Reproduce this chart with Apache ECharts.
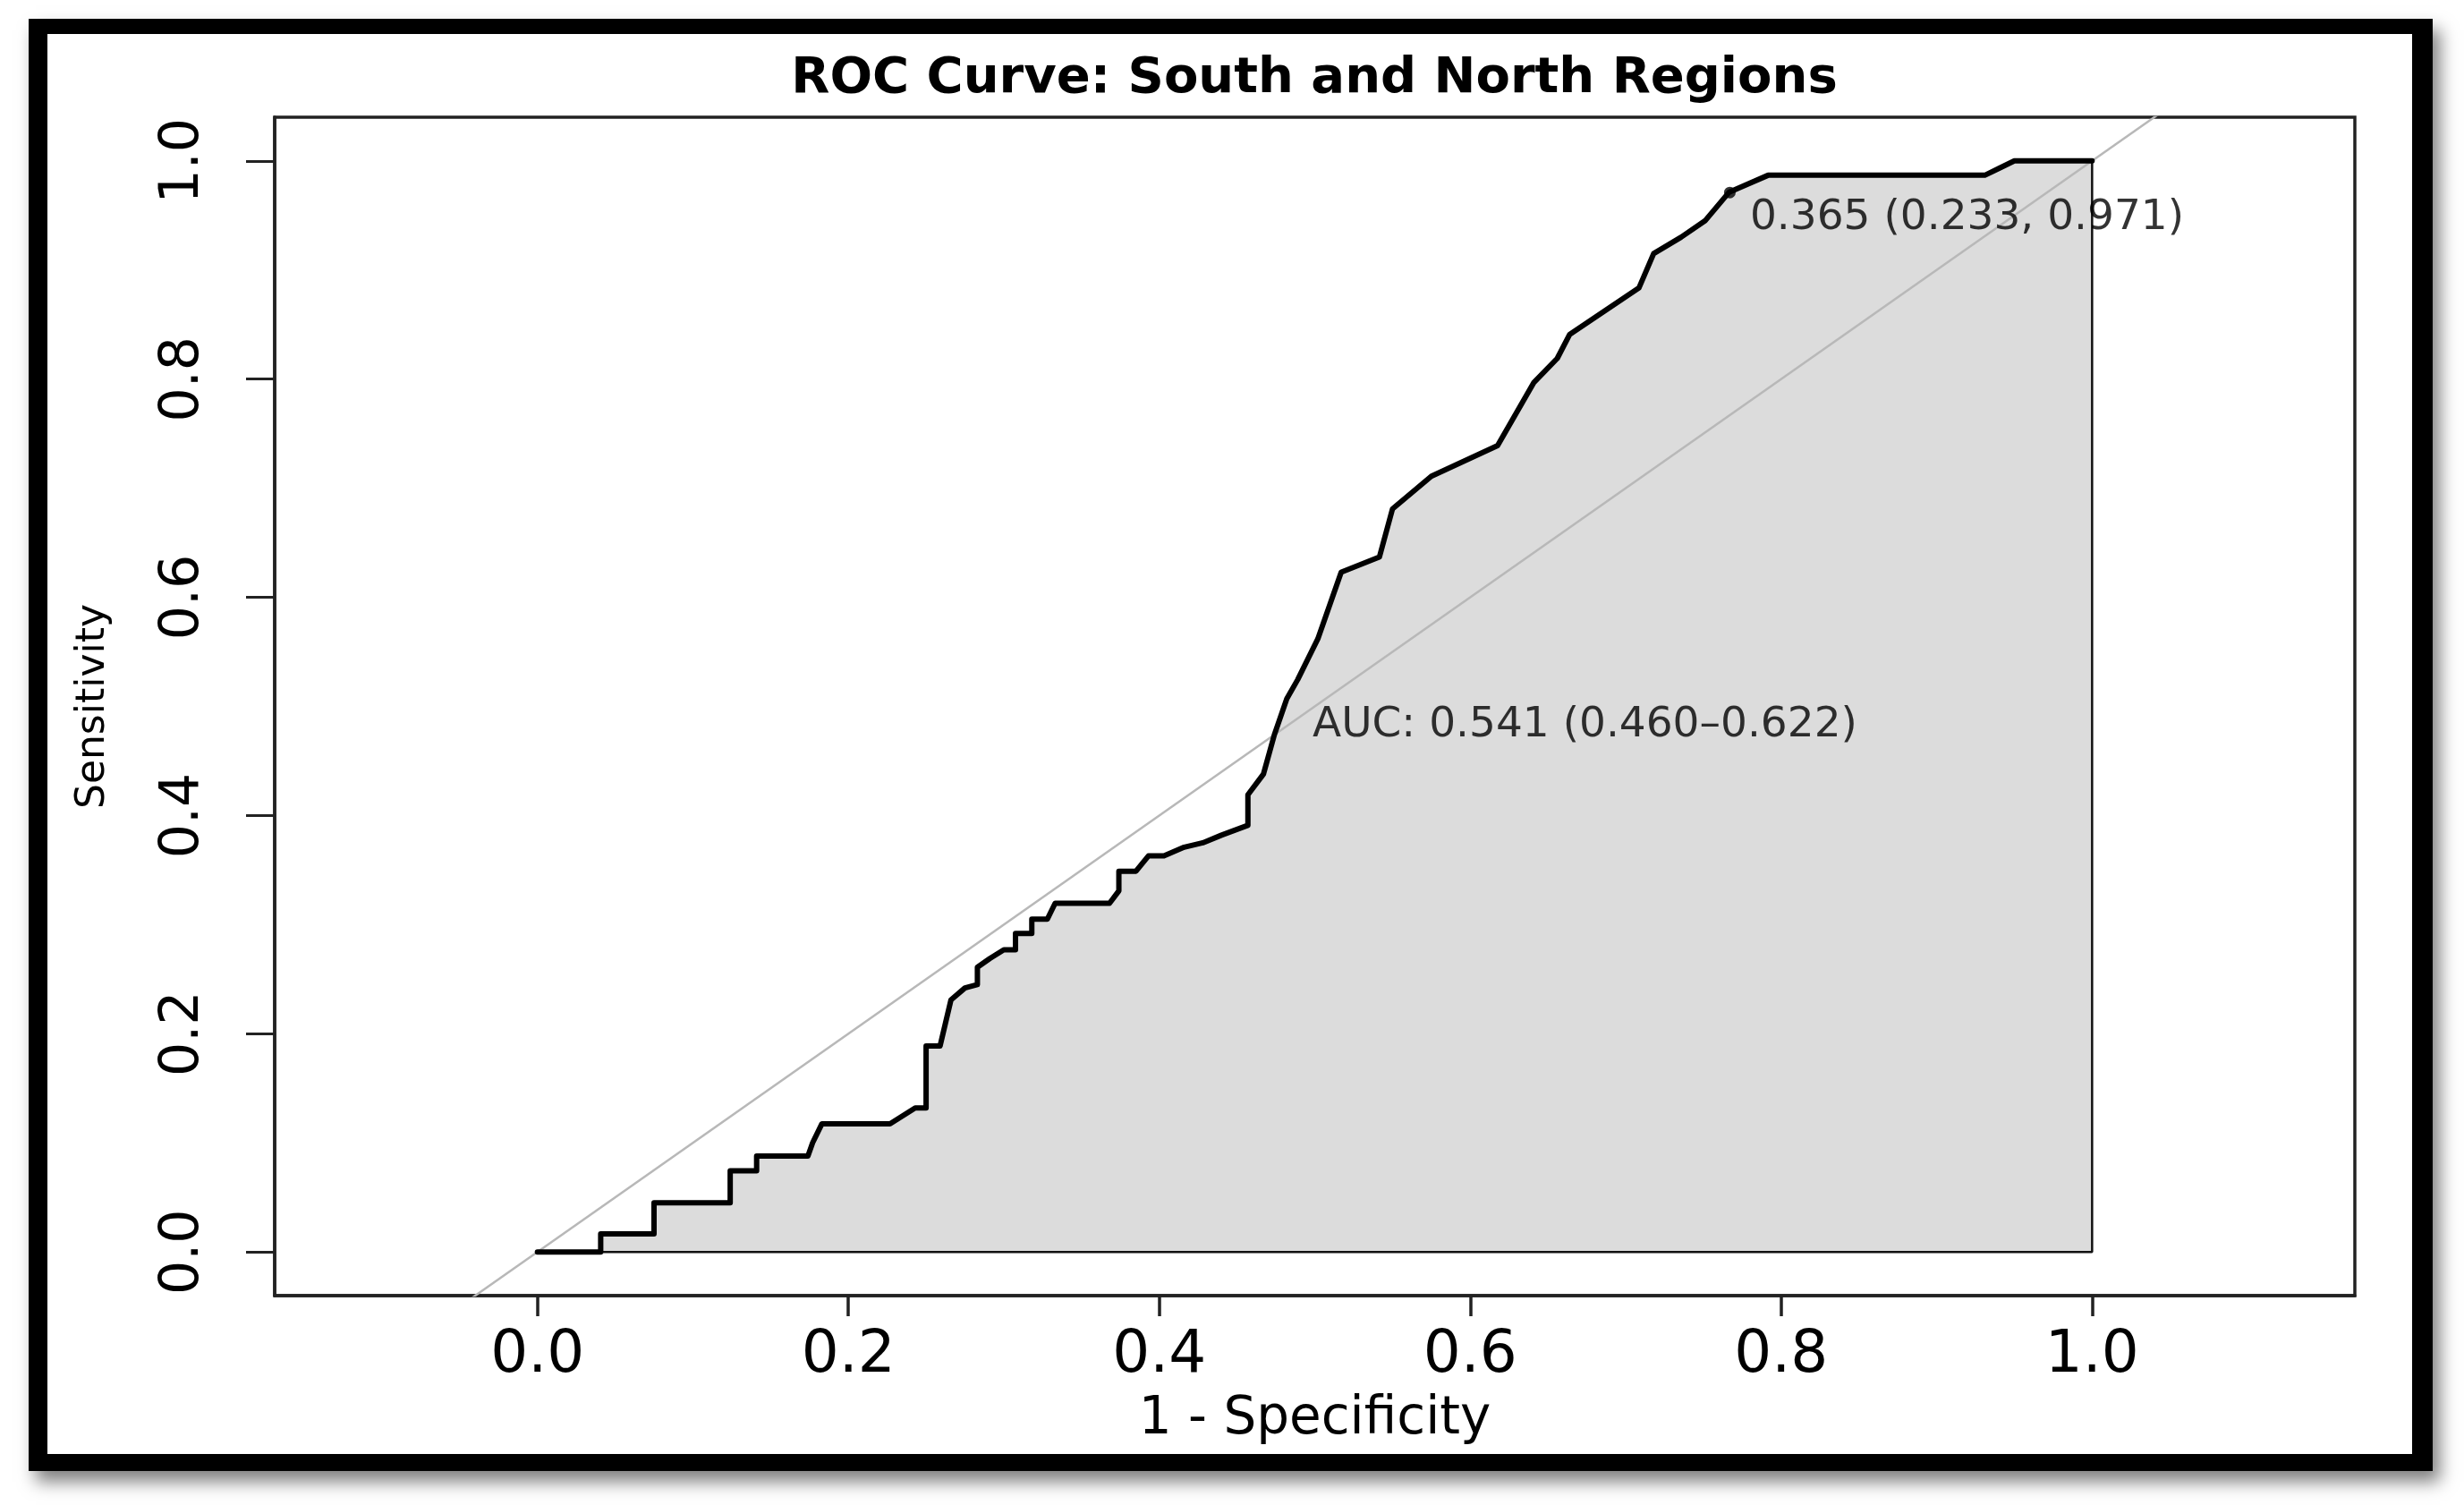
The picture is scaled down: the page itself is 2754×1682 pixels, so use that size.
<!DOCTYPE html>
<html>
<head>
<meta charset="utf-8">
<script src="https://cdn.jsdelivr.net/npm/echarts@6/dist/echarts.min.js"></script>
<style>
html,body{margin:0;padding:0;background:#fff;width:2754px;height:1682px;overflow:hidden;}
#frame{position:absolute;left:32px;top:21px;width:2687px;height:1623px;box-sizing:border-box;background:#fff;border-style:solid;border-color:#000;border-width:17px 23px 19px 21px;box-shadow:8px 12px 18px rgba(0,0,0,0.5);}
#c{position:absolute;left:0;top:0;width:2754px;height:1682px;}
</style>
</head>
<body>
<div id="frame"></div>
<div id="c"></div>
<script>
// 1 - Specificity (x) and Sensitivity (y) of the ROC curve
const fpr = [0, 0.0407, 0.0407, 0.075, 0.075, 0.124, 0.124, 0.141, 0.141, 0.174, 0.177, 0.183, 0.2268, 0.243, 0.250, 0.250, 0.259, 0.266, 0.275, 0.283, 0.283, 0.291, 0.300, 0.3075, 0.3075, 0.318, 0.318, 0.328, 0.333, 0.368, 0.374, 0.374, 0.385, 0.393, 0.403, 0.416, 0.428, 0.440, 0.457, 0.457, 0.467, 0.474, 0.482, 0.489, 0.502, 0.517, 0.5416, 0.550, 0.575, 0.6176, 0.641, 0.656, 0.664, 0.7085, 0.718, 0.7356, 0.751, 0.7666, 0.7916, 0.931, 0.940, 0.950, 1.0];
const tpr = [0, 0, 0.0165, 0.0165, 0.045, 0.045, 0.0743, 0.0743, 0.0879, 0.0879, 0.100, 0.1175, 0.1175, 0.132, 0.132, 0.1888, 0.1888, 0.231, 0.242, 0.245, 0.261, 0.269, 0.277, 0.277, 0.292, 0.292, 0.305, 0.305, 0.3196, 0.3196, 0.331, 0.349, 0.349, 0.363, 0.363, 0.371, 0.375, 0.382, 0.391, 0.419, 0.438, 0.474, 0.507, 0.5245, 0.562, 0.623, 0.637, 0.681, 0.711, 0.739, 0.797, 0.819, 0.841, 0.8835, 0.915, 0.930, 0.945, 0.9714, 0.9868, 0.9868, 0.993, 1.0, 1.0];
const xTicks = [0, 0.2, 0.4, 0.6, 0.8, 1.0];
const yTicks = [0, 0.2, 0.4, 0.6, 0.8, 1.0];
const diagonal = [[-0.2, -0.2], [1.2, 1.2]];
const polygonBorder = [[1, 1], [1, 0], [0, 0]];
const thresholdPoint = [0.767, 0.971];
const thresholdText = '0.365 (0.233, 0.971)';
const aucAnchor = [0.5, 0.5];
const aucText = 'AUC: 0.541 (0.460\u20130.622)';
const titleText = 'ROC Curve: South and North Regions';
const xName = '1 - Specificity';
const yName = 'Sensitivity';

const curve = fpr.map((x, i) => [x, tpr[i]]);
const FONT = "'DejaVu Sans', 'Liberation Sans', Arial, sans-serif";
const AX = '#222';

const chart = echarts.init(document.getElementById('c'), null, {renderer: 'canvas'});
chart.setOption({
  animation: false,
  backgroundColor: 'transparent',
  title: {
    text: titleText, left: 1469, top: 60, textAlign: 'center', padding: 0,
    textStyle: {fontFamily: FONT, fontWeight: 'bold', fontSize: 56, color: '#000'}
  },
  grid: {left: 307, top: 131, width: 2325, height: 1317, show: true, borderColor: AX, borderWidth: 3.5, backgroundColor: 'transparent', containLabel: false},
  xAxis: {
    type: 'value', min: -0.169, max: 1.169,
    axisLine: {show: true, onZero: false, lineStyle: {color: AX, width: 3.5}},
    axisTick: {show: true, customValues: xTicks, length: 23, lineStyle: {color: AX, width: 3.5}},
    axisLabel: {customValues: xTicks, formatter: v => v.toFixed(1), fontFamily: FONT, fontSize: 66, color: '#000', margin: 35},
    splitLine: {show: false},
    name: xName, nameLocation: 'middle', nameGap: 110,
    nameTextStyle: {fontFamily: FONT, fontSize: 58, color: '#000'}
  },
  yAxis: {
    type: 'value', min: -0.04, max: 1.04,
    axisLine: {show: true, onZero: false, lineStyle: {color: AX, width: 3.5}},
    axisTick: {show: true, customValues: yTicks, length: 32, lineStyle: {color: AX, width: 3}},
    axisLabel: {customValues: yTicks, formatter: v => v.toFixed(1), fontFamily: FONT, fontSize: 60, color: '#000', margin: 72, rotate: 90},
    splitLine: {show: false},
    name: yName, nameLocation: 'middle', nameGap: 180,
    nameTextStyle: {fontFamily: FONT, fontSize: 44, color: '#000'}
  },
  series: [
    {
      name: 'AUC area', type: 'line', data: curve, symbol: 'none', silent: true, z: 1,
      lineStyle: {width: 0, opacity: 0},
      areaStyle: {color: '#DCDCDC', opacity: 1, origin: 0}
    },
    {
      name: 'identity', type: 'line', data: diagonal, symbol: 'none', silent: true, z: 2,
      lineStyle: {color: '#b8b8b8', width: 2.5}
    },
    {
      name: 'polygon border', type: 'line', data: polygonBorder, symbol: 'none', silent: true, z: 3,
      lineStyle: {color: '#111', width: 2.5}
    },
    {
      name: 'ROC', type: 'line', data: curve, symbol: 'none', silent: true, z: 4,
      lineStyle: {color: '#000', width: 6, join: 'round', cap: 'round'}
    },
    {
      name: 'threshold', type: 'scatter', data: [thresholdPoint], symbolSize: 13, z: 5, silent: true,
      itemStyle: {color: '#000'},
      label: {show: true, formatter: () => thresholdText, position: [29, 12], align: 'left', verticalAlign: 'top',
        fontFamily: FONT, fontSize: 47, color: '#000'}
    },
    {
      name: 'auc text', type: 'scatter', data: [aucAnchor], symbolSize: 1, z: 5, silent: true,
      itemStyle: {color: 'rgba(0,0,0,0)'},
      label: {show: true, formatter: () => aucText, position: [-2, -2], align: 'left', verticalAlign: 'top',
        fontFamily: FONT, fontSize: 47, color: '#000'}
    }
  ]
});
</script>
</body>
</html>
